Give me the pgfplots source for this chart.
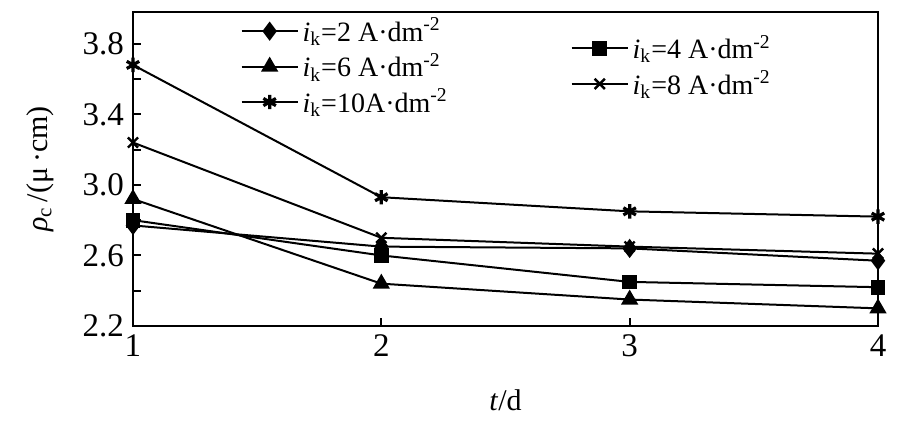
\documentclass[border=0pt]{standalone}
\usepackage{fontspec}
\setmainfont{Liberation Serif}
\usepackage{pgfplots}
\pgfplotsset{compat=1.18}
\pgfplotsset{
  sA/.style={black, line width=1pt, mark=diamond*, mark size=4pt, mark options={solid}},
  sB/.style={black, line width=1pt, mark=square*, mark size=3.2pt, mark options={solid}},
  sC/.style={black, line width=1pt, mark=triangle*, mark size=4pt, mark options={solid}},
  sD/.style={black, line width=1pt, mark=x, mark size=3.6pt, mark options={solid, line width=1.2pt}},
  sE/.style={black, line width=1pt, mark=asterisk, mark size=3.6pt, mark options={solid, line width=1.6pt}},
  leg/.style={legend style={draw=none, fill=none, inner sep=0pt, font=\fontsize{14}{15}\selectfont, row sep=0.5pt, cells={anchor=west}},
    legend image code/.code={\draw[##1, mark repeat=2, mark phase=2] plot coordinates {(0pt,0pt) (14pt,0pt) (28pt,0pt)};}},
}
\begin{document}
\begin{tikzpicture}
\begin{axis}[
  width=372.5pt, height=157pt, scale only axis,
  xmin=1, xmax=4, ymin=2.2, ymax=3.98,
  clip=false,
  xtick={1,2,3,4}, ytick={2.2,2.6,3.0,3.4,3.8}, minor ytick={2.4,2.8,3.2,3.6},
  y tick label style={/pgf/number format/fixed, /pgf/number format/fixed zerofill, /pgf/number format/precision=1, xshift=-1pt},
  /pgf/number format/assume math mode=true,
  tick align=inside, xtick pos=bottom, ytick pos=left,
  axis line style={line width=1.2pt},
  major tick length=4pt, minor tick length=4pt,
  every tick/.style={line width=1pt, black},
  tick label style={font=\fontsize{16.5}{16.5}\selectfont},
  x tick label style={yshift=-1pt},
  xlabel={\textit{t}/d},
  ylabel={\textit{ρ}\textsubscript{c}\,/(μ\,·cm)},
  every axis x label/.style={at={(rel axis cs:0.5,-0.236)}, anchor=center, font=\fontsize{15}{15}\selectfont},
  every axis y label/.style={at={(rel axis cs:-0.125,0.5)}, rotate=90, anchor=center, font=\fontsize{15}{15}\selectfont},
  leg,
  legend style={at={(rel axis cs:0.144,0.995)}, anchor=north west},
]
\addplot[sA] coordinates {(1,2.77) (2,2.65) (3,2.64) (4,2.57)};
\addlegendentry{\textit{i}\textsubscript{k}=2 A·dm\textsuperscript{-2}}
\addplot[sC] coordinates {(1,2.92) (2,2.44) (3,2.35) (4,2.30)};
\addlegendentry{\textit{i}\textsubscript{k}=6 A·dm\textsuperscript{-2}}
\addplot[sE] coordinates {(1,3.68) (2,2.93) (3,2.85) (4,2.82)};
\addlegendentry{\textit{i}\textsubscript{k}=10A·dm\textsuperscript{-2}}
\addplot[sB, forget plot] coordinates {(1,2.80) (2,2.60) (3,2.45) (4,2.42)};
\addplot[sD, forget plot] coordinates {(1,3.24) (2,2.70) (3,2.65) (4,2.61)};
\coordinate (bl) at (rel axis cs:-0.1785,-0.3248);
\coordinate (tr) at (rel axis cs:1.0349,1.0382);
\end{axis}
\begin{axis}[
  width=372.5pt, height=157pt, scale only axis,
  xmin=1, xmax=4, ymin=2.2, ymax=3.98,
  hide axis, leg,
  legend style={at={(rel axis cs:0.587,0.94)}, anchor=north west},
]
\addlegendimage{sB}
\addlegendentry{\textit{i}\textsubscript{k}=4 A·dm\textsuperscript{-2}}
\addlegendimage{sD}
\addlegendentry{\textit{i}\textsubscript{k}=8 A·dm\textsuperscript{-2}}
\end{axis}
\pgfresetboundingbox
\path[use as bounding box] (bl) rectangle (tr);
\end{tikzpicture}
\end{document}
